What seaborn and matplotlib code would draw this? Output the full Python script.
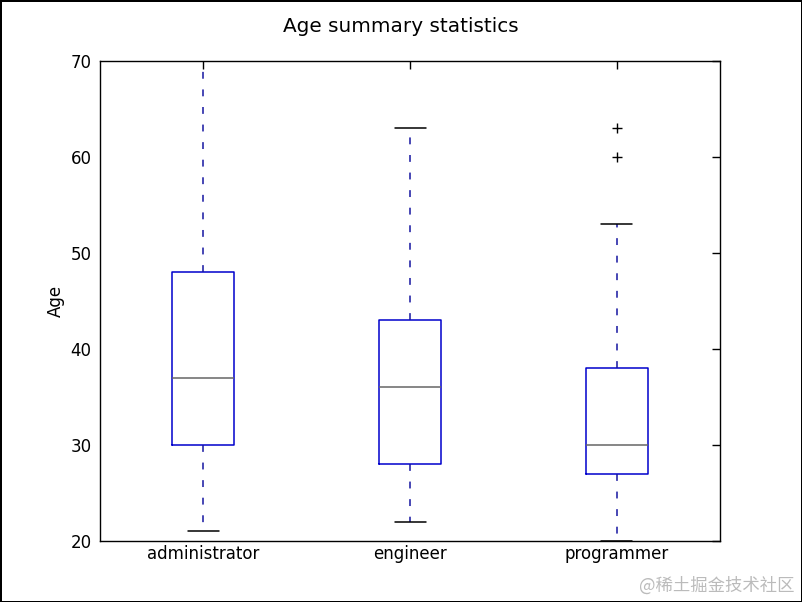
import numpy as np
import pandas as pd
import matplotlib
matplotlib.use("Agg")
import matplotlib.pyplot as plt
import seaborn as sns

# ages per role (whiskers, quartiles, median, outliers)
administrator_ages = [21, 30, 37, 48, 70]
engineer_ages = [22, 28, 36, 43, 63]
programmer_ages = [20, 24, 26, 27, 28, 29, 30, 33, 36, 38, 53, 60, 63]
roles = ["administrator", "engineer", "programmer"]

df = pd.DataFrame({
    "role": ["administrator"] * len(administrator_ages)
            + ["engineer"] * len(engineer_ages)
            + ["programmer"] * len(programmer_ages),
    "age": administrator_ages + engineer_ages + programmer_ages,
})

sns.set_style("white")
plt.rcParams.update({
    "font.family": ["DejaVu Sans"],
    "font.size": 12,
    "text.color": "black",
    "axes.labelcolor": "black",
    "xtick.color": "black",
    "ytick.color": "black",
    "axes.edgecolor": "black",
    "axes.linewidth": 1.0,
})

fig = plt.figure(figsize=(8.02, 6.02), dpi=100, facecolor="white",
                 edgecolor="black", linewidth=2)
ax = fig.add_axes([0.1247, 0.1013, 0.7731, 0.7974])

sns.boxplot(data=df, x="role", y="age", order=roles, ax=ax,
            width=0.3, fill=False, color="#0000cc", linewidth=1.1,
            whiskerprops=dict(linestyle=(0, (4.5, 7)), color="#1515a0"),
            medianprops=dict(color="#666666"),
            capprops=dict(color="black"),
            flierprops=dict(marker="+", markeredgecolor="black",
                            markerfacecolor="none", markersize=7, linestyle="none"))

ax.set_ylim(20, 70)
ax.set_xlim(-0.5, 2.5)
ax.set_yticks([20, 30, 40, 50, 60, 70])
ax.set_xlabel("")
ax.set_ylabel("Age", fontsize=12, color="black")
ax.tick_params(axis="both", labelsize=12, colors="black", length=6, width=1,
               top=True, right=True, direction="in")
ax.tick_params(axis="x", pad=3)
ax.tick_params(axis="y", pad=6)
for s in ax.spines.values():
    s.set_visible(True)
    s.set_color("black")

fig.suptitle("Age summary statistics", fontsize=14.4, y=0.971, color="black")

fig.text(0.991, 0.012, "@稀土掘金技术社区", ha="right", va="bottom",
         fontsize=12.5, color="#bbbbbb",
         family=["Noto Sans CJK SC", "DejaVu Sans"])

fig.savefig("out.png", dpi=100, facecolor="white", edgecolor="black")
